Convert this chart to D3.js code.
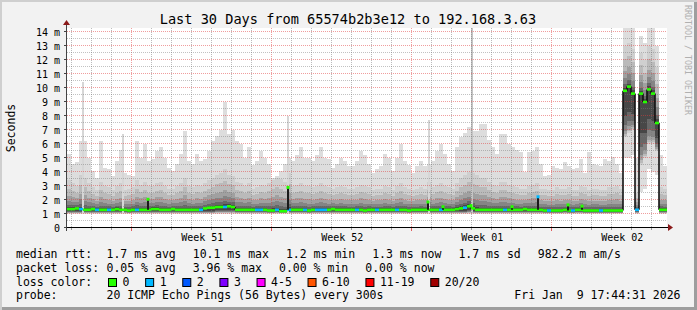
<!DOCTYPE html>
<html>
<head>
<meta charset="utf-8">
<title>Last 30 Days</title>
<script src="https://cdn.jsdelivr.net/npm/d3@7/dist/d3.min.js"></script>
<style>
  body { margin: 0; background: #f2f2f2; }
  svg { display: block; }
  text { font-family: "DejaVu Sans Mono", monospace; fill: #000; white-space: pre; }
</style>
</head>
<body>
<div id="chart"></div>
<script>
// ---- values ----
const titleText = "Last 30 Days from 65574b2b3e12 to 192.168.3.63";
const startTime = new Date("2025-12-10T17:44:31Z");
const endTime = new Date("2026-01-09T17:44:31Z");
const binHours = 4.8; // one smoke column per 4.8 h

const medianRtt = [
  1.35,1.35,1.4,1.35,1.3,1.3,1.35,1.3,1.3,1.3,
  1.3,1.3,1.35,1.3,1.3,1.25,1.3,1.3,1.3,1.3,
  1.3,1.35,1.35,1.3,1.3,1.3,1.35,1.3,1.3,1.3,
  1.3,1.3,1.3,1.3,1.4,1.45,1.45,1.5,1.5,1.5,
  1.55,1.5,1.3,1.3,1.3,1.3,1.3,1.3,1.3,1.3,
  1.25,1.25,1.3,1.2,1.2,1.3,1.3,1.3,1.3,1.3,
  1.25,1.3,1.3,1.3,1.3,1.3,1.35,1.3,1.3,1.3,
  1.3,1.3,1.3,1.3,1.25,1.3,1.3,1.3,1.3,1.3,
  1.3,1.3,1.3,1.3,1.3,1.25,1.3,1.3,1.3,1.3,
  1.3,1.3,1.3,1.3,1.3,1.3,1.3,1.35,1.4,1.45,
  1.55,1.4,1.3,1.3,1.3,1.3,1.3,1.3,1.3,1.3,
  1.3,1.3,1.3,1.3,1.35,1.3,1.3,1.3,1.3,1.25,
  1.25,1.25,1.25,1.25,1.3,1.25,1.25,1.3,1.3,1.25,
  1.25,1.25,1.25,1.25,1.25,1.25,1.25,1.25,1.25,9.8,
  10.1,9.6,1.3,9.6,9.0,9.9,9.6,7.5,1.3,1.3
];
const lossPings = [
  0,0,0,1,0,0,0,1,0,0,
  1,0,0,0,0,0,0,1,0,0,
  0,0,0,0,0,0,0,0,0,0,
  0,0,0,1,0,0,0,0,0,1,
  0,0,0,0,0,0,0,1,1,0,
  0,0,1,0,0,1,0,0,0,1,
  0,0,1,1,1,0,0,0,0,0,
  0,0,1,0,0,0,0,1,0,0,
  0,0,1,0,0,0,0,0,0,0,
  0,0,0,1,0,0,0,0,0,1,
  0,0,0,0,0,0,0,0,0,1,
  0,0,0,0,0,0,0,0,0,0,
  1,0,0,0,0,0,1,0,0,0,
  0,0,0,1,0,0,0,0,0,0,
  0,0,1,0,0,0,0,0,0,0
];
const minRtt = [
  1.02,1.02,1.02,1.02,1.02,1.02,1.02,1.02,1.02,1.02,
  1.02,1.02,1.02,1.02,1.02,1.02,1.02,1.02,1.02,1.02,
  1.02,1.02,1.02,1.02,1.02,1.02,1.02,1.02,1.02,1.02,
  1.02,1.02,1.02,1.02,1.02,1.02,1.02,1.02,1.02,1.02,
  1.02,1.02,1.02,1.02,1.02,1.02,1.02,1.02,1.02,1.02,
  1.02,1.02,1.02,1.02,1.02,1.02,1.02,1.02,1.02,1.02,
  1.02,1.02,1.02,1.02,1.02,1.02,1.02,1.02,1.02,1.02,
  1.02,1.02,1.02,1.02,1.02,1.02,1.02,1.02,1.02,1.02,
  1.02,1.02,1.02,1.02,1.02,1.02,1.02,1.02,1.02,1.02,
  1.02,1.02,1.02,1.02,1.02,1.02,1.02,1.02,1.02,1.02,
  1.02,1.02,1.02,1.02,1.02,1.02,1.02,1.02,1.02,1.02,
  1.02,1.02,1.02,1.02,1.02,1.02,1.02,1.02,1.02,1.02,
  1.02,1.02,1.02,1.02,1.02,1.02,1.02,1.02,1.02,1.02,
  1.02,1.02,1.02,1.02,1.02,1.02,1.02,1.02,1.02,5.0,
  5.0,5.2,1.02,2.6,2.8,4.2,4.0,3.8,1.02,1.02
];
const loRtt = [
  1.08,1.08,1.08,1.08,1.08,1.08,1.08,1.08,1.08,1.08,
  1.08,1.08,1.08,1.08,1.08,1.08,1.08,1.08,1.08,1.08,
  1.08,1.08,1.08,1.08,1.08,1.08,1.08,1.08,1.08,1.08,
  1.08,1.08,1.08,1.08,1.08,1.08,1.08,1.08,1.08,1.08,
  1.08,1.08,1.08,1.08,1.08,1.08,1.08,1.08,1.08,1.08,
  1.08,1.08,1.08,1.08,1.08,1.08,1.08,1.08,1.08,1.08,
  1.08,1.08,1.08,1.08,1.08,1.08,1.08,1.08,1.08,1.08,
  1.08,1.08,1.08,1.08,1.08,1.08,1.08,1.08,1.08,1.08,
  1.08,1.08,1.08,1.08,1.08,1.08,1.08,1.08,1.08,1.08,
  1.08,1.08,1.08,1.08,1.08,1.08,1.08,1.08,1.08,1.08,
  1.08,1.08,1.08,1.08,1.08,1.08,1.08,1.08,1.08,1.08,
  1.08,1.08,1.08,1.08,1.08,1.08,1.08,1.08,1.08,1.08,
  1.08,1.08,1.08,1.08,1.08,1.08,1.08,1.08,1.08,1.08,
  1.08,1.08,1.08,1.08,1.08,1.08,1.08,1.08,1.08,6.5,
  6.8,7.0,1.08,4.5,5.0,6.0,6.0,5.5,1.08,1.08
];
const hiRtt = [
  3.4,3.2,3.0,3.8,3.6,3.2,2.9,2.7,3.3,3.0,
  2.9,2.7,3.0,3.2,2.7,2.8,2.9,3.4,3.1,3.3,
  3.0,3.0,3.2,3.3,3.0,2.8,2.8,3.0,3.2,3.6,
  3.0,2.9,3.1,3.0,3.2,3.4,3.6,3.8,3.9,4.2,
  3.8,3.7,3.3,3.2,3.0,3.2,2.8,2.9,3.1,3.0,
  3.2,3.4,3.6,3.5,3.3,3.9,3.0,3.1,3.2,3.0,
  3.0,2.9,3.0,3.2,3.0,2.9,2.8,2.9,3.0,2.9,
  2.8,2.8,2.9,3.1,3.0,2.9,2.7,2.8,2.8,3.0,
  2.9,2.7,3.0,3.2,2.9,2.8,2.7,2.8,2.9,2.8,
  3.3,2.9,3.1,3.2,3.0,2.9,2.8,3.2,3.6,3.8,
  4.0,3.9,3.8,3.6,3.6,3.3,3.1,3.0,3.3,3.3,
  3.1,3.0,2.9,2.8,2.8,3.0,3.1,3.2,2.8,2.8,
  2.7,2.7,2.9,2.8,2.8,2.9,2.7,2.7,3.0,2.9,
  2.7,2.8,2.8,2.7,2.7,2.9,2.9,3.0,2.8,13.0,
  13.2,12.8,2.5,12.5,12.0,13.0,12.8,11.5,2.9,2.8
];
const maxRtt = [
  5.3,4.6,4.7,6.2,6.2,5.0,4.1,3.6,6.2,4.3,
  4.2,3.7,4.8,5.6,3.9,3.8,3.7,6.2,5.0,6.0,
  4.8,4.9,5.5,5.8,5.0,4.3,4.1,4.6,5.3,6.9,
  4.8,4.6,5.3,4.8,4.9,5.5,6.2,6.6,7.0,9.0,
  6.7,7.0,6.2,6.0,5.0,5.8,4.5,4.8,5.5,5.0,
  4.6,3.6,3.7,4.1,4.6,5.0,4.8,5.2,5.8,5.0,
  5.0,4.8,5.2,5.8,5.0,4.9,4.3,4.6,5.0,4.8,
  4.4,4.4,4.8,5.5,5.2,4.6,3.9,4.2,4.4,5.3,
  5.0,4.1,5.0,6.0,4.8,4.5,3.9,4.4,4.8,4.4,
  4.6,4.8,5.5,6.0,5.3,4.6,4.1,5.8,6.5,6.8,
  7.2,6.9,6.9,7.4,7.4,6.3,5.8,5.3,6.7,6.7,
  6.0,5.8,5.6,5.4,4.0,5.4,5.5,5.8,4.6,3.7,
  3.8,4.4,4.3,4.2,4.7,4.4,4.2,4.3,4.9,3.9,
  5.4,4.6,4.5,4.4,4.9,4.8,5.1,4.6,3.9,14.3,
  14.3,14.3,5.0,13.7,13.2,14.3,14.3,13.0,5.2,4.4
];

// short jumps of the median (single rounds)
const spikeTimes = ["2025-12-14T18:35Z","2025-12-21T19:18Z","2025-12-28T18:35Z","2025-12-29T12:35Z",
  "2025-12-30T22:32Z","2026-01-01T23:22Z","2026-01-03T06:35Z","2026-01-04T19:18Z","2026-01-05T11:22Z"];
const spikeRtt = [2.05, 2.9, 1.86, 1.52, 1.6, 1.52, 2.23, 1.65, 1.56];
const spikeLoss = [0, 0, 0, 0, 0, 0, 1, 0, 0];

// thin outliers in the smoke
const peakTimes = ["2025-12-11T12:56Z","2025-12-13T12:56Z","2025-12-21T19:18Z","2025-12-28T20:08Z","2025-12-30T23:44Z"];
const peakRtt = [10.4, 6.7, 8.0, 7.7, 14.3];

const yTickValues = [0,1,2,3,4,5,6,7,8,9,10,11,12,13,14];
const yTickLabels = ["0","1 m","2 m","3 m","4 m","5 m","6 m","7 m","8 m","9 m","10 m","11 m","12 m","13 m","14 m"];
const yTop = 14.2857;

const lossLabels = ["0","1","2","3","4-5","6-10","11-19","20/20"];
const lossColors = ["#26ff00","#00b8ff","#0059ff","#7e00ff","#ff00ff","#ff5500","#ff0000","#a00000"];
const lossBuckets = [0,1,2,3,5,10,19,20];

const rttStats = ["1.7 ms avg","10.1 ms max","1.2 ms min","1.3 ms now","1.7 ms sd","982.2 m am/s"];
const lossStats = ["0.05 % avg","3.96 % max","0.00 % min","0.00 % now"];
const probeText = "20 ICMP Echo Pings (56 Bytes) every 300s";
const stampText = "Fri Jan  9 17:44:31 2026";

// ---- layout ----
const width = 697, height = 310;
const plot = {left: 67, right: 667, top: 28, bottom: 228};

const svg = d3.select("#chart").append("svg")
    .attr("width", width)
    .attr("height", height);

// frame like rrdtool (light top/left, dark bottom/right)
svg.append("rect").attr("width", width).attr("height", height).attr("fill", "#cfcfcf");
svg.append("rect").attr("x", 2).attr("y", 2).attr("width", width - 2).attr("height", height - 2).attr("fill", "#9e9e9e");
svg.append("rect").attr("x", 2).attr("y", 2).attr("width", width - 5).attr("height", height - 5).attr("fill", "#f2f2f2");

svg.append("rect")
    .attr("x", plot.left).attr("y", plot.top)
    .attr("width", plot.right - plot.left).attr("height", plot.bottom - plot.top)
    .attr("fill", "#fff");

const xScale = d3.scaleUtc().domain([startTime, endTime]).range([plot.left, plot.right]);
const yScale = d3.scaleLinear().domain([0, yTop]).range([plot.bottom, plot.top]);

const binMs = binHours * 3600 * 1000;
const binTimes = medianRtt.map((d, i) => new Date(+startTime + i * binMs)).concat([endTime]);
const binOf = t => Math.min(medianRtt.length - 1, Math.floor((t - startTime) / binMs));

svg.append("clipPath").attr("id", "canvas")
  .append("rect")
    .attr("x", plot.left).attr("y", plot.top)
    .attr("width", plot.right - plot.left).attr("height", plot.bottom - plot.top);

const gSmoke = svg.append("g").attr("clip-path", "url(#canvas)").attr("shape-rendering", "crispEdges");

// one layer of smoke between two per-column limits
function drawBand (lower, upper, color) {
    gSmoke.append("g").selectAll("rect").data(medianRtt).join("rect")
        .attr("x", (d, i) => xScale(binTimes[i]))
        .attr("width", (d, i) => xScale(binTimes[i + 1]) - xScale(binTimes[i]))
        .attr("y", (d, i) => yScale(upper(i)))
        .attr("height", (d, i) => Math.max(0, yScale(lower(i)) - yScale(upper(i))))
        .attr("fill", color);
}

drawBand(i => minRtt[i], i => maxRtt[i], "#dddddd");

// inner shades get darker towards the median
const smokeShades = [
    {up: 1.0, down: 1.0, color: "#cfcfcf"},
    {up: 0.7, down: 0.97, color: "#bababa"},
    {up: 0.45, down: 0.93, color: "#a0a0a0"},
    {up: 0.28, down: 0.86, color: "#858585"},
    {up: 0.15, down: 0.75, color: "#676767"},
    {up: 0.07, down: 0.55, color: "#474747"}
];
smokeShades.forEach(s => {
    drawBand(i => medianRtt[i] - s.down * (medianRtt[i] - loRtt[i]),
             i => medianRtt[i] + s.up * (hiRtt[i] - medianRtt[i]), s.color);
});

// thin outliers
gSmoke.append("g").selectAll("rect").data(peakRtt).join("rect")
    .attr("x", (d, i) => Math.round(xScale(new Date(peakTimes[i]))) - 1)
    .attr("width", d => d > 14 ? 2 : 1.5)
    .attr("y", d => yScale(d))
    .attr("height", d => yScale(1.1) - yScale(d))
    .attr("fill", d => d > 14 ? "#c4c4c4" : "#d6d6d6");

// ---- grid ----
const gGrid = svg.append("g").attr("fill", "none").attr("stroke-dasharray", "1,1");
const weekStarts = d3.utcSunday.range(startTime, endTime);
const dayLines = d3.utcDay.range(startTime, endTime).filter(d => d.getUTCDay() !== 0);
const px = v => Math.round(v) - 0.5;

gGrid.selectAll(".vminor").data(dayLines).join("line")
    .attr("x1", d => px(xScale(d))).attr("x2", d => px(xScale(d)))
    .attr("y1", plot.top).attr("y2", plot.bottom)
    .attr("stroke", "rgba(120,120,120,0.5)");
gGrid.selectAll(".vmajor").data(weekStarts).join("line")
    .attr("x1", d => px(xScale(d))).attr("x2", d => px(xScale(d)))
    .attr("y1", plot.top).attr("y2", plot.bottom)
    .attr("stroke", "rgba(225,60,60,0.5)");

const halfLines = yTickValues.map(v => v + 0.5).filter(v => v < yTop);
gGrid.selectAll(".hminor").data(halfLines).join("line")
    .attr("x1", plot.left).attr("x2", plot.right)
    .attr("y1", d => px(yScale(d))).attr("y2", d => px(yScale(d)))
    .attr("stroke", "rgba(120,120,120,0.45)");
gGrid.selectAll(".hmajor").data(yTickValues.filter(v => v > 0)).join("line")
    .attr("x1", plot.left).attr("x2", plot.right)
    .attr("y1", d => px(yScale(d))).attr("y2", d => px(yScale(d)))
    .attr("stroke", "rgba(225,60,60,0.5)");

// ---- median line coloured by loss ----
const lossColor = n => lossColors[lossBuckets.findIndex(b => n <= b)];
const gMedian = svg.append("g").attr("clip-path", "url(#canvas)");

gMedian.selectAll(".jump").data(medianRtt.slice(1)).join("line")
    .attr("x1", (d, i) => xScale(binTimes[i + 1])).attr("x2", (d, i) => xScale(binTimes[i + 1]))
    .attr("y1", (d, i) => yScale(medianRtt[i])).attr("y2", d => yScale(d))
    .attr("stroke", "#111").attr("stroke-width", 1.6);

gMedian.selectAll(".seg").data(medianRtt).join("line")
    .attr("x1", (d, i) => xScale(binTimes[i])).attr("x2", (d, i) => xScale(binTimes[i + 1]))
    .attr("y1", d => yScale(d)).attr("y2", d => yScale(d))
    .attr("stroke", (d, i) => lossColor(lossPings[i]))
    .attr("stroke-width", 2.6);

gMedian.selectAll(".spike").data(spikeRtt).join("line")
    .attr("x1", (d, i) => Math.round(xScale(new Date(spikeTimes[i]))))
    .attr("x2", (d, i) => Math.round(xScale(new Date(spikeTimes[i]))))
    .attr("y1", (d, i) => yScale(medianRtt[binOf(new Date(spikeTimes[i]))]))
    .attr("y2", d => yScale(d))
    .attr("stroke", "#1a1a1a").attr("stroke-width", 2);
gMedian.selectAll(".spikeTop").data(spikeRtt).join("rect")
    .attr("x", (d, i) => Math.round(xScale(new Date(spikeTimes[i]))) - 1.5)
    .attr("y", d => yScale(d) - 1.5)
    .attr("width", 3).attr("height", 3)
    .attr("fill", (d, i) => lossColor(spikeLoss[i]));

// ---- axes ----
const axisY = plot.bottom - 0.5;
svg.append("line")
    .attr("x1", plot.left - 3).attr("x2", plot.right + 3)
    .attr("y1", axisY).attr("y2", axisY)
    .attr("stroke", "#000");
svg.append("line")
    .attr("x1", plot.left - 0.5).attr("x2", plot.left - 0.5)
    .attr("y1", plot.bottom + 3).attr("y2", plot.top - 4)
    .attr("stroke", "#444");
svg.append("path")
    .attr("d", `M${plot.right + 1},${axisY - 3.5}L${plot.right + 6},${axisY}L${plot.right + 1},${axisY + 3.5}Z`)
    .attr("fill", "#8b1a1a");
svg.append("path")
    .attr("d", `M${plot.left - 4},${plot.top - 3}L${plot.left - 0.5},${plot.top - 8}L${plot.left + 3},${plot.top - 3}Z`)
    .attr("fill", "#8b1a1a");

// ticks
svg.append("g").selectAll("line").data(dayLines).join("line")
    .attr("x1", d => px(xScale(d))).attr("x2", d => px(xScale(d)))
    .attr("y1", plot.bottom).attr("y2", plot.bottom + 2)
    .attr("stroke", "#999");
svg.append("g").selectAll("line").data(weekStarts).join("line")
    .attr("x1", d => px(xScale(d))).attr("x2", d => px(xScale(d)))
    .attr("y1", plot.bottom).attr("y2", plot.bottom + 3)
    .attr("stroke", "#e06060");
svg.append("g").selectAll("line").data(yTickValues).join("line")
    .attr("x1", plot.left - 3).attr("x2", plot.left)
    .attr("y1", d => px(yScale(d))).attr("y2", d => px(yScale(d)))
    .attr("stroke", "#444");

// tick labels
svg.append("g").selectAll("text").data(yTickValues).join("text")
    .attr("x", plot.left - 7)
    .attr("y", d => yScale(d) + 3.6)
    .attr("text-anchor", "end")
    .attr("font-size", "10px")
    .text((d, i) => yTickLabels[i]);

const weekMiddles = d3.utcSunday.range(d3.utcSunday.floor(startTime), endTime)
    .map(d => new Date(+d + 3.5 * 864e5))
    .filter(d => d > startTime && d < endTime);
const weekFormat = d3.utcFormat("Week %V");
svg.append("g").selectAll("text").data(weekMiddles).join("text")
    .attr("x", d => xScale(d))
    .attr("y", 241)
    .attr("text-anchor", "middle")
    .attr("font-size", "10px")
    .text(d => weekFormat(d));

// titles
svg.append("text")
    .attr("x", 348).attr("y", 24)
    .attr("text-anchor", "middle")
    .attr("font-size", "13.6px")
    .text(titleText);
svg.append("text")
    .attr("transform", "translate(15,128) rotate(-90)")
    .attr("text-anchor", "middle")
    .attr("font-size", "11.5px")
    .text("Seconds");
svg.append("text")
    .attr("transform", "translate(685,5) rotate(90)")
    .attr("font-size", "8.3px")
    .attr("fill", "#b0b0b0")
    .style("fill", "#b0b0b0")
    .text("RRDTOOL / TOBI OETIKER");

// ---- legend ----
const rowY = [258, 271.8, 285.6, 299.4];
const labelX = 16, valueX = 106.5, itemGap = 17;
const legend = svg.append("g").attr("font-size", "11.5px");

function flowRow (y, head, items) {
    legend.append("text").attr("x", labelX).attr("y", y).text(head);
    let x = valueX;
    items.forEach(t => {
        let node = legend.append("text").attr("x", x).attr("y", y).text(t);
        x += node.node().getComputedTextLength() + itemGap;
    });
}
flowRow(rowY[0], "median rtt:", rttStats);
flowRow(rowY[1], "packet loss:", lossStats);

legend.append("text").attr("x", labelX).attr("y", rowY[2]).text("loss color:");
let boxX = valueX + 2;
lossLabels.forEach((lab, i) => {
    legend.append("rect")
        .attr("x", boxX).attr("y", rowY[2] - 7.1)
        .attr("width", 8).attr("height", 8)
        .attr("fill", lossColors[i])
        .attr("stroke", "#000");
    let t = legend.append("text").attr("x", boxX + 14).attr("y", rowY[2]).text(lab);
    boxX = boxX + 14 + t.node().getComputedTextLength() + 16.2;
});

legend.append("text").attr("x", labelX).attr("y", rowY[3]).text("probe:");
legend.append("text").attr("x", valueX).attr("y", rowY[3]).text(probeText);
legend.append("text").attr("x", 680.5).attr("y", rowY[3]).attr("text-anchor", "end").text(stampText);
</script>
</body>
</html>
